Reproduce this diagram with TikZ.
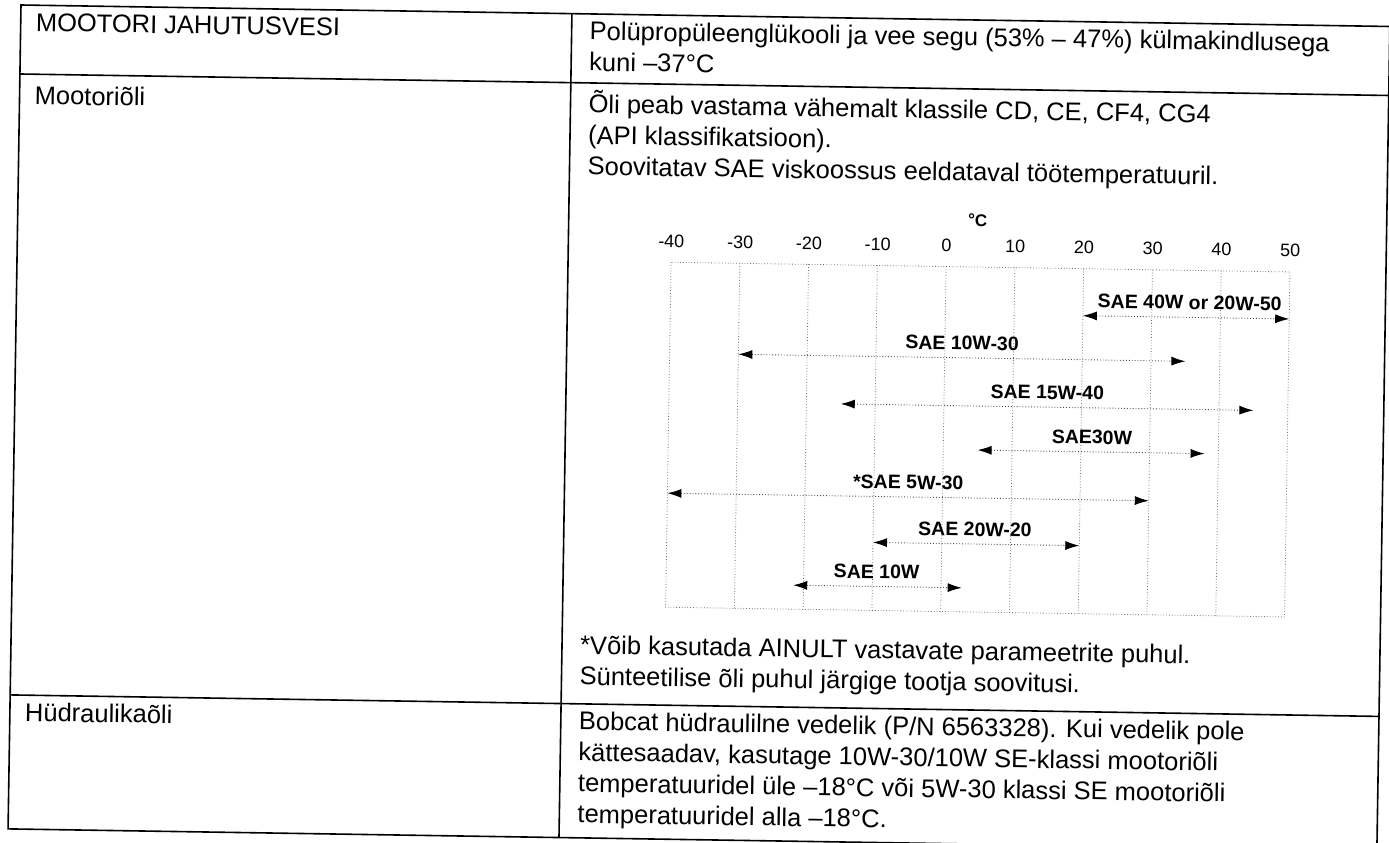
\documentclass[tikz,border=0pt]{standalone}
\usepackage{fontspec}
\setmainfont{Liberation Sans}
\usepackage{tikz}
\usetikzlibrary{positioning, arrows.meta}

\begin{document}
\begin{tikzpicture}[
    x=1pt, y=-1pt,
    frame/.style={draw=black, line width=1.6pt},
    cell/.style={anchor=base west, inner sep=0pt, align=left,
                 font=\fontsize{25.5}{31}\selectfont},
    tick/.style={anchor=base, inner sep=0pt, font=\fontsize{18}{20}\selectfont},
    gridline/.style={draw=black!55, line width=0.8pt, dotted},
    oilrange/.style={{Latex[length=14pt, width=9pt, color=black]}-{Latex[length=14pt, width=9pt, color=black]},
                  draw=black!70, line width=0.9pt, dotted},
    sae/.style={anchor=base, inner sep=0pt, font=\fontsize{19.5}{21}\selectfont\bfseries}
]
    \useasboundingbox (0,0) rectangle (1389,843);

    % the scanned page is slightly turned
    \begin{scope}[rotate around={-0.9:(21,5)}, transform shape]

    % Table frame
    \draw[frame] (21,5) rectangle (1390,829);
    \draw[frame] (21,74) -- (1390,74);
    \draw[frame] (21,695) -- (1390,695);
    \draw[frame] (572,5) -- (572,829);

    % Row 1
    \node[cell] (coolant) at (36,31) {MOOTORI JAHUTUSVESI};
    \node[cell] (coolantspec) at (590,62) {Polüpropüleenglükooli ja vee segu (53\% – 47\%) külmakindlusega\\kuni –37°C};

    % Row 2
    \node[cell] (engineoil) at (36,104) {Mootoriõli};
    \node[cell] (oilspec) at (590,166) {Õli peab vastama vähemalt klassile CD, CE, CF4, CG4\\(API klassifikatsioon).\\Soovitatav SAE viskoossus eeldataval töötemperatuuril.};
    \node[cell] (note) at (590,676) {*Võib kasutada AINULT vastavate parameetrite puhul.\\Sünteetilise õli puhul järgige tootja soovitusi.};

    % Viscosity chart
    \begin{scope}[shift={(950.1,0)}, x=6.878pt]
        \node[font=\fontsize{17}{19}\selectfont\bfseries, anchor=base, inner sep=0pt] (unit) at (4.5,211) {°C};
        \draw[gridline] (-40,252) rectangle (50,597);
        \foreach \t in {-30,-20,...,40}
            \draw[gridline] (\t,252) -- (\t,597);
        \foreach \t [count=\i] in {-40,-30,...,50}
            \node[tick] (tick\i) at (\t,237) {\t};

        \foreach \y/\a/\b/\m/\txt [count=\i] in {
            299/20/50/35.5/SAE 40W or 20W-50,
            343/-30/35/2.5/SAE 10W-30,
            391/-15/45/15/SAE 15W-40,
            435/5/38/21.6/SAE30W,
            483/-40/30/-5/*SAE 5W-30,
            529/-10/20/4.8/SAE 20W-20,
            573/-21.5/3/-9.4/SAE 10W} {
            \coordinate (lo\i) at (\a,\y);
            \coordinate (hi\i) at (\b,\y);
            \draw[oilrange] (lo\i) -- (hi\i);
            \node[sae] (sae\i) at (\m,\y-8) {\txt};
        }
    \end{scope}

    % Row 3
    \node[cell] (hydraulic) at (36,721) {Hüdraulikaõli};
    \node[cell] (hydrspec) at (590,814) {Bobcat hüdraulilne vedelik (P/N 6563328). Kui vedelik pole\\kättesaadav, kasutage 10W-30/10W SE-klassi mootoriõli\\temperatuuridel üle –18°C või 5W-30 klassi SE mootoriõli\\temperatuuridel alla –18°C.};

    \end{scope}
\end{tikzpicture}
\end{document}
